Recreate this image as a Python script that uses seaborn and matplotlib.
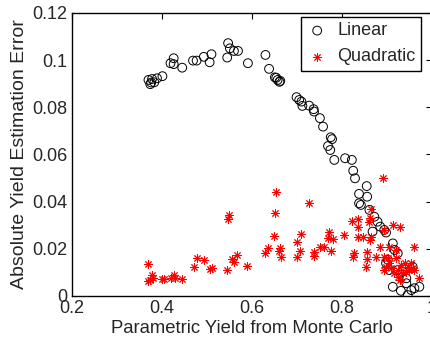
import numpy as np
import pandas as pd
import matplotlib
matplotlib.use('Agg')
import matplotlib.pyplot as plt
from matplotlib.ticker import FormatStrFormatter
import seaborn as sns

# values
linear_x = [0.371, 0.375, 0.379, 0.384, 0.377, 0.390, 0.402, 0.420, 0.427, 0.427,
            0.446, 0.470, 0.478, 0.494, 0.507, 0.511, 0.546, 0.548, 0.552, 0.561,
            0.570, 0.592, 0.631, 0.639, 0.652, 0.655, 0.658, 0.662, 0.664, 0.700,
            0.706, 0.711, 0.713, 0.728, 0.738, 0.739, 0.752, 0.759, 0.776, 0.779,
            0.770, 0.775, 0.784, 0.808, 0.823, 0.826, 0.830, 0.856, 0.839, 0.857,
            0.839, 0.843, 0.862, 0.873, 0.880, 0.869, 0.886, 0.895, 0.899, 0.914,
            0.918, 0.925, 0.903, 0.899, 0.906, 0.925, 0.936, 0.944, 0.914, 0.932,
            0.947, 0.955, 0.962, 0.973, 0.944, 0.958]
linear_err = [0.0916, 0.0898, 0.0920, 0.0906, 0.0905, 0.0923, 0.0932, 0.0987, 0.1008, 0.0983,
              0.0968, 0.0998, 0.0998, 0.1014, 0.0991, 0.1025, 0.1011, 0.1072, 0.1050, 0.1039,
              0.1039, 0.0987, 0.1022, 0.0963, 0.0927, 0.0925, 0.0916, 0.0908, 0.0912, 0.0843,
              0.0831, 0.0824, 0.0806, 0.0807, 0.0792, 0.0782, 0.0754, 0.0718, 0.0673, 0.0665,
              0.0636, 0.0619, 0.0577, 0.0584, 0.0577, 0.0531, 0.0499, 0.0466, 0.0433, 0.0421,
              0.0393, 0.0386, 0.0365, 0.0336, 0.0315, 0.0273, 0.0294, 0.0280, 0.0269, 0.0223,
              0.0195, 0.0181, 0.0153, 0.0139, 0.0110, 0.0110, 0.0103, 0.0075, 0.0039, 0.0022,
              0.0004, 0.0025, 0.0033, 0.0039, 0.0054, 0.0124]

quad_x = [0.369, 0.379, 0.375, 0.371, 0.381, 0.401, 0.405, 0.420, 0.427, 0.429,
          0.446, 0.472, 0.478, 0.494, 0.507, 0.513, 0.546, 0.550, 0.548, 0.556,
          0.561, 0.568, 0.591, 0.655, 0.652, 0.728, 0.650, 0.637, 0.631, 0.663,
          0.660, 0.666, 0.711, 0.702, 0.708, 0.701, 0.738, 0.739, 0.773, 0.770,
          0.782, 0.753, 0.760, 0.776, 0.892, 0.805, 0.823, 0.836, 0.837, 0.866,
          0.864, 0.862, 0.836, 0.847, 0.866, 0.864, 0.895, 0.914, 0.929, 0.828,
          0.825, 0.857, 0.857, 0.855, 0.877, 0.886, 0.906, 0.921, 0.962, 0.895,
          0.903, 0.921, 0.899, 0.895, 0.910, 0.925, 0.932, 0.940, 0.947, 0.955,
          0.958, 0.951, 0.944, 0.937, 0.925, 0.929, 0.973, 0.962, 0.917, 0.906]
quad_err = [0.0136, 0.0089, 0.0068, 0.0064, 0.0075, 0.0073, 0.0073, 0.0078, 0.0089, 0.0075,
            0.0071, 0.0122, 0.0162, 0.0153, 0.0113, 0.0117, 0.0110, 0.0344, 0.0325, 0.0157,
            0.0145, 0.0174, 0.0127, 0.0442, 0.0351, 0.0396, 0.0254, 0.0202, 0.0181, 0.0205,
            0.0192, 0.0167, 0.0263, 0.0230, 0.0192, 0.0167, 0.0188, 0.0170, 0.0270, 0.0245,
            0.0242, 0.0209, 0.0207, 0.0192, 0.0499, 0.0259, 0.0319, 0.0325, 0.0294, 0.0368,
            0.0330, 0.0315, 0.0251, 0.0251, 0.0251, 0.0237, 0.0280, 0.0301, 0.0291, 0.0181,
            0.0167, 0.0188, 0.0156, 0.0122, 0.0167, 0.0209, 0.0209, 0.0195, 0.0209, 0.0167,
            0.0160, 0.0160, 0.0124, 0.0110, 0.0117, 0.0110, 0.0131, 0.0139, 0.0124, 0.0139,
            0.0117, 0.0110, 0.0103, 0.0096, 0.0082, 0.0068, 0.0075, 0.0110, 0.0096, 0.0139]

x_ticks = [0.2, 0.4, 0.6, 0.8, 1.0]
y_ticks = [0, 0.02, 0.04, 0.06, 0.08, 0.1, 0.12]

sns.set_style('white')
plt.rcParams['font.family'] = ['Liberation Sans', 'DejaVu Sans']
plt.rcParams['xtick.direction'] = 'in'
plt.rcParams['ytick.direction'] = 'in'

df_lin = pd.DataFrame({'x': linear_x, 'err': linear_err})
df_quad = pd.DataFrame({'x': quad_x, 'err': quad_err})

fig = plt.figure(figsize=(4.3, 3.41), dpi=100)
ax = fig.add_axes([0.1663, 0.132, 0.8372, 0.830])

sns.scatterplot(data=df_lin, x='x', y='err', ax=ax, marker='o', s=40,
                facecolors='none', edgecolor='black', linewidth=0.7, label='Linear')
sns.scatterplot(data=df_quad, x='x', y='err', ax=ax, marker=(8, 2, 0), s=30,
                color='red', edgecolor='red', linewidth=0.7, label='Quadratic')

ax.set_xlim(0.2, 1.0)
ax.set_ylim(0, 0.12)
ax.set_xticks(x_ticks)
ax.set_yticks(y_ticks)
ax.xaxis.set_major_formatter(FormatStrFormatter('%g'))
ax.yaxis.set_major_formatter(FormatStrFormatter('%g'))
ax.tick_params(axis='both', labelsize=13, length=4, width=0.8, color='black',
               top=True, right=True, pad=3)
for s in ax.spines.values():
    s.set_visible(True)
    s.set_color('black')
    s.set_linewidth(1.0)
ax.set_xlabel('Parametric Yield from Monte Carlo', fontsize=13.3, labelpad=2)
ax.set_ylabel('Absolute Yield Estimation Error', fontsize=14, labelpad=3)

leg = ax.legend(loc='upper right', fontsize=13, frameon=True, fancybox=False,
                edgecolor='black', framealpha=1, borderpad=0.3,
                handlelength=1.2, handletextpad=0.5,
                bbox_to_anchor=(0.97, 0.986), borderaxespad=0)
leg.get_frame().set_linewidth(1.0)

fig.savefig('out.png', dpi=100)
